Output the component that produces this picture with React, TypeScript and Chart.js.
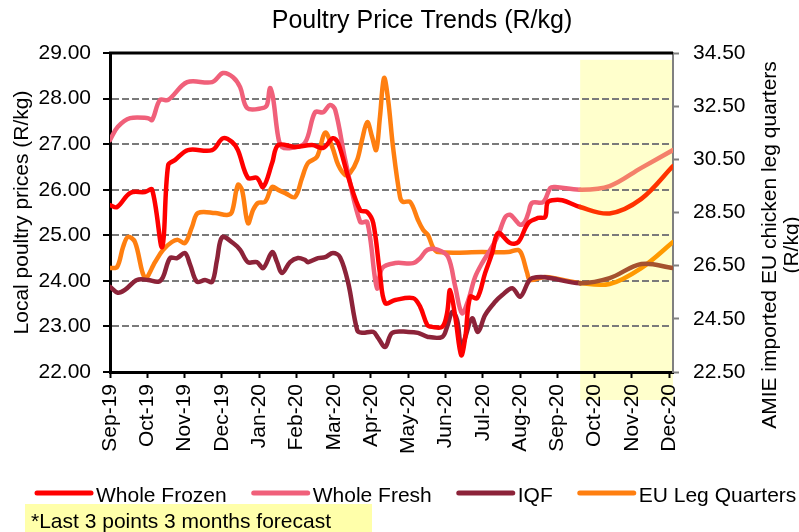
import React, { useEffect, useRef } from "react";
import { Chart, registerables } from "chart.js";

Chart.register(...registerables);

// Month tick labels (x = months since Sep-19)
const monthLabels = [
  "Sep-19", "Oct-19", "Nov-19", "Dec-19", "Jan-20", "Feb-20", "Mar-20", "Apr-20",
  "May-20", "Jun-20", "Jul-20", "Aug-20", "Sep-20", "Oct-20", "Nov-20", "Dec-20",
];

// Actual (weekly-ish) prices, [monthOffset, R/kg]
const wholeFrozen: [number, number][] = [
  [0, 25.66], [0.19, 25.62], [0.54, 25.93], [0.94, 25.95], [1.13, 26.0], [1.4, 24.74],
  [1.56, 26.54], [1.74, 26.65], [2.09, 26.87], [2.74, 26.87], [3.03, 27.13], [3.27, 27.05],
  [3.43, 26.87], [3.7, 26.26], [3.94, 26.26], [4.11, 26.06], [4.35, 26.59], [4.51, 26.98],
  [4.96, 26.94], [5.42, 26.98], [5.72, 26.92], [5.98, 27.13], [6.12, 27.02], [6.39, 26.28],
  [6.71, 25.55], [6.9, 25.51], [7.06, 25.27], [7.24, 24.17], [7.38, 23.51], [7.65, 23.58],
  [8.13, 23.62], [8.32, 23.43], [8.51, 23.03], [8.64, 22.99], [8.91, 22.99], [9.04, 23.29],
  [9.12, 23.8], [9.26, 23.21], [9.42, 22.37], [9.53, 22.77], [9.66, 23.65], [9.85, 23.62],
  [10.06, 24.17], [10.25, 24.61], [10.41, 25.05], [10.73, 24.83], [10.95, 24.85], [11.22, 25.27],
  [11.48, 25.38], [11.67, 25.4], [11.73, 25.71], [11.86, 25.77], [12.13, 25.77], [12.61, 25.62],
];

const wholeFresh: [number, number][] = [
  [0, 27.09], [0.21, 27.38], [0.54, 27.57], [1.02, 27.57], [1.13, 27.53], [1.34, 27.97],
  [1.56, 27.97], [2.07, 28.36], [2.74, 28.36], [3.03, 28.56], [3.3, 28.47], [3.49, 28.25],
  [3.68, 27.79], [4.08, 27.79], [4.21, 27.86], [4.29, 28.23], [4.37, 28.03], [4.51, 27.16],
  [4.61, 26.94], [4.88, 26.92], [5.23, 27.03], [5.5, 27.7], [5.72, 27.7], [5.9, 27.86],
  [6.04, 27.75], [6.31, 26.65], [6.71, 25.29], [6.9, 25.29], [7.16, 23.84], [7.3, 24.28],
  [7.65, 24.39], [8.13, 24.39], [8.32, 24.5], [8.51, 24.68], [8.8, 24.68], [9.07, 24.52],
  [9.26, 23.87], [9.44, 23.29], [9.61, 23.58], [9.79, 24.08], [9.98, 24.39], [10.25, 24.75],
  [10.41, 25.0], [10.6, 25.4], [10.73, 25.45], [10.87, 25.34], [11.0, 25.23], [11.13, 25.3],
  [11.22, 25.49], [11.32, 25.71], [11.62, 25.73], [11.81, 26.04], [11.94, 26.06], [12.61, 26.0],
];

const iqf: [number, number][] = [
  [0, 23.87], [0.21, 23.74], [0.4, 23.8], [0.72, 24.02], [1.02, 24.02], [1.29, 23.98],
  [1.42, 24.08], [1.61, 24.5], [1.8, 24.5], [2.01, 24.61], [2.15, 24.35], [2.33, 23.98],
  [2.55, 24.02], [2.74, 23.98], [2.87, 24.46], [3.01, 24.96], [3.3, 24.83], [3.49, 24.68],
  [3.7, 24.41], [3.94, 24.41], [4.11, 24.28], [4.35, 24.63], [4.48, 24.41], [4.61, 24.17],
  [4.83, 24.41], [5.04, 24.5], [5.23, 24.46], [5.31, 24.41], [5.58, 24.5], [5.77, 24.52],
  [5.98, 24.61], [6.17, 24.52], [6.39, 23.95], [6.63, 22.92], [6.76, 22.86], [7.06, 22.88],
  [7.19, 22.75], [7.38, 22.55], [7.57, 22.86], [8.0, 22.88], [8.26, 22.86], [8.53, 22.77],
  [8.91, 22.77], [9.04, 22.99], [9.18, 23.32], [9.31, 23.14], [9.42, 22.53], [9.53, 22.77],
  [9.71, 23.18], [9.87, 22.88], [10.06, 23.25], [10.33, 23.54], [10.52, 23.69], [10.79, 23.84],
  [11.0, 23.65], [11.22, 23.98], [11.32, 24.06], [11.67, 24.08], [12.61, 23.95],
];

// EU leg quarters, right axis
const euLegQuarters: [number, number][] = [
  [0, 26.41], [0.19, 26.45], [0.35, 27.2], [0.48, 27.58], [0.67, 27.39], [0.94, 26.04],
  [1.21, 26.64], [1.42, 27.09], [1.66, 27.39], [1.82, 27.47], [2.01, 27.35], [2.2, 27.96],
  [2.36, 28.48], [2.82, 28.48], [3.14, 28.41], [3.27, 28.52], [3.43, 29.54], [3.54, 29.35],
  [3.7, 28.1], [3.84, 28.6], [3.97, 28.86], [4.16, 28.9], [4.35, 29.46], [4.51, 29.35],
  [4.7, 29.23], [4.96, 29.08], [5.15, 29.8], [5.31, 30.36], [5.55, 30.59], [5.77, 31.5],
  [5.96, 30.97], [6.12, 30.29], [6.31, 29.91], [6.44, 29.99], [6.63, 30.48], [6.76, 31.23],
  [6.9, 31.9], [7.03, 31.34], [7.14, 30.85], [7.24, 32.09], [7.35, 33.56], [7.46, 32.73],
  [7.59, 30.97], [7.78, 29.08], [7.86, 28.9], [8.05, 28.9], [8.26, 28.22], [8.4, 27.84],
  [8.53, 27.65], [8.67, 27.17], [8.8, 27.01], [9.98, 27.01], [10.68, 27.01], [10.95, 27.09],
  [11.05, 26.9], [11.19, 26.22], [11.27, 25.96], [11.67, 26.07], [12.61, 25.85],
];

// Forecast (last 3 points)
const forecastMonths = [13.4, 14.25, 15.1];
const frozenForecast = [25.48, 25.8, 26.52];
const freshForecast = [26.08, 26.48, 26.87];
const iqfForecast = [24.06, 24.37, 24.28];
const euForecast = [25.81, 26.41, 27.39];

const FONT = "'Liberation Sans', Arial, sans-serif";

const seriesStyles = [
  { label: "Whole Frozen", color: "#FF0000", forecast: "#FF3300" },
  { label: "Whole Fresh", color: "#F0607A", forecast: "#F4806A" },
  { label: "IQF", color: "#8C2339", forecast: "#A5522F" },
  { label: "EU Leg Quarters", color: "#FF7F10", forecast: "#FF9A00" },
];

const decor = {
  id: "decor",
  beforeDraw(chart: any) {
    const { ctx, chartArea, scales } = chart;
    const last = wholeFrozen[wholeFrozen.length - 1][0];
    const x0 = scales.x.getPixelForValue(last);
    const yTop = scales.y.getPixelForValue(28.85);
    ctx.save();
    ctx.fillStyle = "#FFFFCC";
    ctx.fillRect(x0, yTop, chartArea.right - x0, chartArea.bottom + 28 - yTop);
    ctx.restore();
  },
  afterDraw(chart: any) {
    const { ctx, chartArea } = chart;
    ctx.save();
    // top border
    ctx.strokeStyle = "#000";
    ctx.lineWidth = 3;
    ctx.beginPath();
    ctx.moveTo(chartArea.left - 1, chartArea.top);
    ctx.lineTo(chartArea.right, chartArea.top);
    ctx.stroke();

    ctx.fillStyle = "#000";
    // title
    ctx.font = `25px ${FONT}`;
    ctx.textAlign = "center";
    ctx.textBaseline = "middle";
    ctx.fillText("Poultry Price Trends (R/kg)", 422, 21);

    // left axis title
    ctx.font = `21px ${FONT}`;
    ctx.save();
    ctx.translate(22, (chartArea.top + chartArea.bottom) / 2);
    ctx.rotate(-Math.PI / 2);
    ctx.fillText("Local poultry prices (R/kg)", 0, 0);
    ctx.restore();

    // right axis title (two lines)
    ctx.save();
    ctx.translate(770, 245);
    ctx.rotate(-Math.PI / 2);
    ctx.fillText("AMIE imported EU chicken leg quarters", 0, 0);
    ctx.fillText("(R/kg)", 0, 22);
    ctx.restore();

    // legend
    let x = 37;
    const ly = 493;
    ctx.textAlign = "left";
    ctx.textBaseline = "alphabetic";
    ctx.font = `21px ${FONT}`;
    seriesStyles.forEach((s) => {
      ctx.strokeStyle = s.color;
      ctx.lineWidth = 5;
      ctx.lineCap = "round";
      ctx.beginPath();
      ctx.moveTo(x, ly);
      ctx.lineTo(x + 54, ly);
      ctx.stroke();
      ctx.fillStyle = "#000";
      ctx.fillText(s.label, x + 59, ly + 9);
      x += 59 + ctx.measureText(s.label).width + 27;
    });

    // footnote
    ctx.fillStyle = "#FFFFAA";
    ctx.fillRect(25, 504, 347, 28);
    ctx.fillStyle = "#000";
    ctx.font = `21px ${FONT}`;
    ctx.fillText("*Last 3 points 3 months forecast", 31, 528);
    ctx.restore();
  },
};

function buildData(pts: [number, number][], fv: number[]) {
  return [
    ...pts.map(([x, y]) => ({ x, y })),
    ...forecastMonths.map((x, i) => ({ x, y: fv[i] })),
  ];
}

export default function App() {
  const ref = useRef<HTMLCanvasElement>(null);
  useEffect(() => {
    document.body.style.margin = "0";
    Chart.defaults.font.family = FONT;
    Chart.defaults.font.size = 21;
    Chart.defaults.color = "#000";
    const canvas = ref.current!;
    const sources: [[number, number][], number[], string][] = [
      [wholeFrozen, frozenForecast, "y"],
      [wholeFresh, freshForecast, "y"],
      [iqf, iqfForecast, "y"],
      [euLegQuarters, euForecast, "y1"],
    ];
    const datasets = sources.map(([pts, fv, axis], i) => {
      const st = seriesStyles[i];
      const lastActual = pts.length - 1;
      return {
        label: st.label,
        data: buildData(pts, fv),
        yAxisID: axis,
        borderColor: st.color,
        backgroundColor: st.color,
        borderWidth: 4.5,
        pointRadius: 0,
        tension: 0.35,
        fill: false,
        borderCapStyle: "round" as const,
        borderJoinStyle: "round" as const,
        segment: {
          borderColor: (c: any) => (c.p0DataIndex >= lastActual ? st.forecast : st.color),
        },
      };
    });
    const chart = new Chart(canvas, {
      type: "line",
      data: { datasets: datasets as any },
      options: {
        animation: false,
        responsive: false,
        devicePixelRatio: 1,
        layout: { padding: { top: 53, bottom: 60, left: 0, right: 0 } },
        plugins: {
          legend: { display: false },
          title: { display: false },
          tooltip: { enabled: false },
        },
        scales: {
          x: {
            type: "linear",
            min: 0,
            max: 15.1,
            afterFit: (s: any) => {
              s.height = 100;
            },
            afterBuildTicks: (s: any) => {
              s.ticks = monthLabels.map((_, i) => ({ value: i }));
            },
            ticks: {
              autoSkip: false,
              maxRotation: 90,
              minRotation: 90,
              padding: 6,
              callback: (v: any) => monthLabels[Math.round(Number(v))] ?? "",
            },
            grid: { drawOnChartArea: false, tickLength: 6, tickColor: "#000", tickWidth: 2 },
            border: { color: "#000", width: 3 },
          },
          y: {
            position: "left",
            min: 22,
            max: 29,
            afterFit: (s: any) => {
              s.width = 110;
            },
            ticks: { stepSize: 1, padding: 12, callback: (v: any) => Number(v).toFixed(2) },
            grid: {
              color: (c: any) =>
                c.tick && c.tick.value > 22 && c.tick.value < 29 ? "#7a7a7a" : "rgba(0,0,0,0)",
              lineWidth: 2,
              tickLength: 7,
              tickColor: "#000",
              tickWidth: 2,
            },
            border: { color: "#000", width: 3, dash: [7, 3] },
          },
          y1: {
            position: "right",
            min: 22.5,
            max: 34.5,
            afterFit: (s: any) => {
              s.width = 126;
            },
            ticks: { stepSize: 2, padding: 14, callback: (v: any) => Number(v).toFixed(2) },
            grid: { drawOnChartArea: false, tickLength: 6, tickColor: "#808080", tickWidth: 2 },
            border: { color: "#808080", width: 2 },
          },
        },
      } as any,
      plugins: [decor],
    });
    return () => chart.destroy();
  }, []);
  return (
    <div style={{ width: 799, height: 532, position: "relative", background: "#fff" }}>
      <canvas ref={ref} width={799} height={532} style={{ display: "block" }} />
    </div>
  );
}
